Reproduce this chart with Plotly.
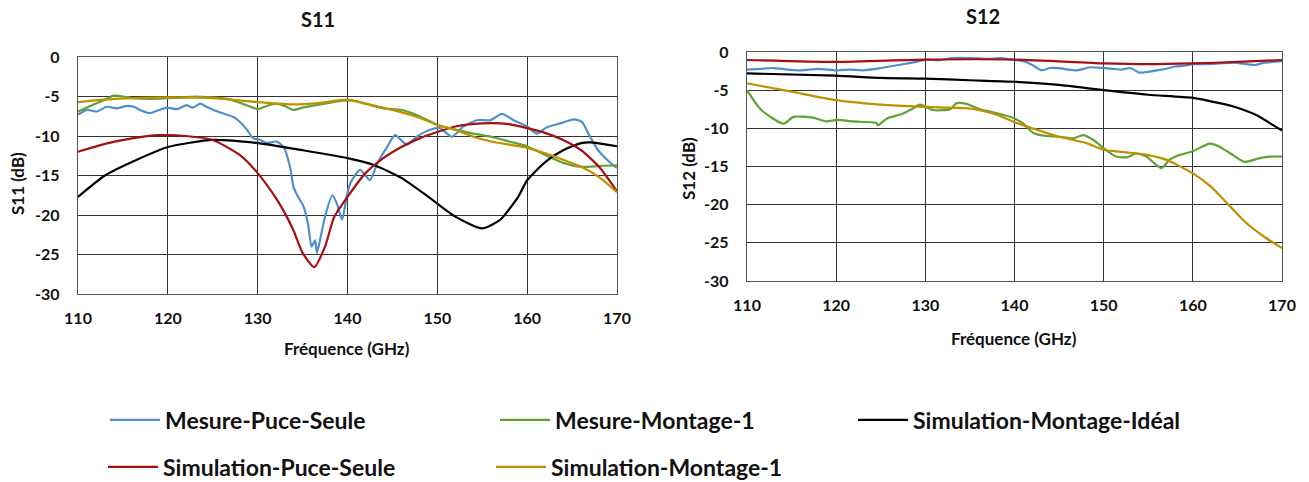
import plotly.graph_objects as go

# ---- S11 (left) ----
s11_mes_puce_f = [110.0, 111.0, 112.1, 113.2, 114.3, 115.4, 116.2, 116.9, 118.0, 118.8, 119.9, 121.0, 122.1, 122.8,
                  123.6, 124.3, 125.1, 126.6, 127.3, 128.0, 128.8, 129.5, 130.3, 131.0, 132.1, 132.9, 133.6, 134.0,
                  134.5, 135.1, 135.6, 136.0, 136.4, 136.6, 137.1, 137.5, 138.3, 138.8, 139.4, 139.9, 140.3, 141.4,
                  142.5, 143.3, 144.4, 145.3, 146.6, 147.7, 149.2, 150.3, 151.6, 152.9, 154.4, 155.9, 157.2, 158.5,
                  160.0, 161.1, 162.2, 163.7, 165.2, 166.1, 167.0, 167.9, 168.9, 169.8, 170.0]
s11_mes_puce = [-7.3, -6.7, -6.9, -6.3, -6.5, -6.2, -6.3, -6.7, -7.1, -6.8, -6.4, -6.6, -6.1, -6.4,
                -5.9, -6.3, -6.7, -7.3, -7.6, -8.2, -9.2, -10.3, -10.5, -10.9, -10.7, -11.4, -13.9, -16.5,
                -17.7, -18.9, -21.1, -24.0, -23.2, -24.8, -22.3, -20.2, -17.5, -18.5, -20.6, -17.7, -16.0, -14.3,
                -15.6, -13.5, -11.4, -9.9, -11.1, -10.1, -9.2, -9.0, -10.1, -8.8, -8.0, -8.0, -7.2, -8.0,
                -8.8, -9.7, -8.9, -8.4, -7.9, -8.2, -10.1, -11.8, -13.0, -13.9, -14.0]

s11_mes_mont_f = [110, 111, 112, 113, 114, 115, 116, 118, 120, 122, 123, 125, 126, 127, 128, 129, 130, 131, 132, 133,
                  134, 135, 136, 137, 138, 139, 140, 141, 142, 144, 146, 148, 150, 152, 154, 156, 158, 160, 162, 164,
                  166, 168, 170]
s11_mes_mont = [-6.9, -6.4, -5.9, -5.4, -4.9, -5.0, -5.2, -5.3, -5.2, -5.1, -5.0, -5.1, -5.2, -5.4, -5.8, -6.2, -6.6,
                -6.2, -5.9, -6.2, -6.7, -6.4, -6.2, -6.0, -5.8, -5.6, -5.5, -5.6, -5.9, -6.5, -6.7, -7.5, -8.6, -9.2,
                -9.7, -10.1, -10.7, -11.3, -12.4, -13.4, -13.9, -13.8, -13.7]

s11_sim_ideal_f = [110, 113, 116, 120, 125, 130, 135, 140, 143, 146, 149, 152, 155, 157, 159, 160, 162, 164, 166, 167, 170]
s11_sim_ideal = [-17.7, -15.0, -13.3, -11.4, -10.5, -10.9, -11.8, -12.8, -13.7, -15.3, -17.7, -20.2, -21.7, -20.6,
                 -17.7, -15.6, -13.3, -11.8, -10.9, -10.8, -11.3]

s11_sim_puce_f = [110, 113, 116, 119, 122, 125, 128, 130, 132, 133, 134, 135, 136.3, 137.5, 138.5, 140, 142, 144, 146,
                  148, 150, 152, 155, 158, 160, 162, 164, 166, 168, 170]
s11_sim_puce = [-12.0, -11.0, -10.3, -9.9, -10.0, -10.5, -12.4, -14.7, -17.8, -19.7, -22.0, -24.8, -26.6, -24.0, -20.3,
                -17.7, -14.7, -12.8, -11.4, -10.3, -9.5, -8.8, -8.4, -8.5, -9.0, -9.6, -10.5, -11.8, -13.9, -17.0]

s11_sim_mont_f = [110, 113, 116, 120, 125, 130, 134, 137, 140, 142, 145, 148, 150, 152, 154, 156, 158, 160, 162, 164,
                  166, 168, 170]
s11_sim_mont = [-5.7, -5.4, -5.2, -5.1, -5.2, -5.7, -6.0, -5.8, -5.4, -5.9, -6.7, -7.7, -8.6, -9.2, -10.1, -10.7,
                -11.1, -11.5, -12.2, -13.0, -13.9, -15.2, -17.1]

# ---- S12 (right) ----
s12_mes_puce_f = [110, 111.5, 113, 114.5, 116, 118, 120, 121.5, 123, 125, 127, 129, 130, 131.5, 133, 135, 137, 138.5,
                  140, 141, 142, 143, 144, 145, 146, 147, 148.5, 150, 151, 152, 153, 154, 155, 156, 157, 158, 159,
                  160, 161.5, 163, 164.5, 166, 167, 168, 169, 170]
s12_mes_puce = [-2.3, -2.2, -2.1, -2.3, -2.4, -2.2, -2.4, -2.3, -2.4, -2.1, -1.7, -1.3, -1.0, -1.1, -0.8, -0.8, -0.9,
                -0.8, -1.05, -1.2, -1.7, -2.4, -2.1, -2.1, -2.3, -2.4, -2.0, -2.1, -2.2, -2.3, -2.1, -2.7, -2.6,
                -2.4, -2.2, -1.9, -1.8, -1.6, -1.6, -1.5, -1.4, -1.6, -1.7, -1.4, -1.3, -1.2]

s12_mes_mont_f = [110.0, 111.6, 114.1, 115.2, 117.4, 118.9, 120.1, 121.9, 124.5, 124.7, 125.7, 127.2, 128.6, 129.4,
                  130.9, 132.8, 133.5, 134.6, 136.1, 137.6, 139.8, 140.9, 142.1, 143.6, 145.1, 146.6, 147.7, 148.8,
                  150.0, 151.4, 152.6, 153.7, 154.8, 155.5, 156.5, 157.4, 158.5, 160.0, 161.9, 163.0, 164.5, 165.8,
                  167.5, 168.6, 170.0]
s12_mes_mont = [-5.0, -7.6, -9.4, -8.5, -8.6, -9.1, -8.9, -9.1, -9.3, -9.6, -8.7, -8.2, -7.4, -6.9,
                -7.6, -7.5, -6.7, -6.8, -7.5, -7.9, -8.6, -9.3, -10.6, -11.0, -11.1, -11.3, -10.9, -11.5,
                -12.6, -13.7, -13.8, -13.3, -13.7, -14.4, -15.2, -14.1, -13.5, -13.0, -12.0, -12.4, -13.5, -14.4,
                -13.9, -13.7, -13.7]

s12_sim_ideal_f = [110, 120, 125, 130, 135, 140, 145, 150, 155, 160, 163, 165, 167, 170]
s12_sim_ideal = [-2.8, -3.1, -3.4, -3.5, -3.7, -3.9, -4.3, -5.0, -5.6, -6.0, -6.7, -7.3, -8.2, -10.3]

s12_sim_puce_f = [110, 120, 130, 140, 150, 155, 160, 165, 170]
s12_sim_puce = [-1.05, -1.3, -1.0, -1.0, -1.5, -1.6, -1.5, -1.3, -1.05]

s12_sim_mont_f = [110, 115, 120, 125, 130, 135, 138, 140, 142, 145, 148, 150, 153, 155, 157, 160, 162, 164, 166, 168, 170]
s12_sim_mont = [-4.1, -5.2, -6.3, -6.9, -7.2, -7.4, -8.2, -9.2, -10.0, -11.1, -11.9, -12.8, -13.2, -13.5, -14.1,
                -15.9, -17.6, -20.0, -22.4, -24.2, -25.7]

names = ["Mesure-Puce-Seule", "Mesure-Montage-1", "Simulation-Montage-Idéal",
         "Simulation-Puce-Seule", "Simulation-Montage-1"]
colors = ["#4F8FCC", "#5FA336", "#000000", "#A50F0F", "#C09000"]

x_ticks = [110, 120, 130, 140, 150, 160, 170]
y_ticks = [0, -5, -10, -15, -20, -25, -30]
y_ticklabels = ["0", "-5", "-10", "-15", "-20", "-25", "-30"]

left = [(s11_mes_puce_f, s11_mes_puce), (s11_mes_mont_f, s11_mes_mont), (s11_sim_ideal_f, s11_sim_ideal),
        (s11_sim_puce_f, s11_sim_puce), (s11_sim_mont_f, s11_sim_mont)]
right = [(s12_mes_puce_f, s12_mes_puce), (s12_mes_mont_f, s12_mes_mont), (s12_sim_ideal_f, s12_sim_ideal),
         (s12_sim_puce_f, s12_sim_puce), (s12_sim_mont_f, s12_sim_mont)]

W, H = 1309, 482
FONT = "Lato"

fig = go.Figure()
legend_ids = ["legend", "legend2", "legend3", "legend4", "legend5"]
for i, (f, v) in enumerate(left):
    fig.add_trace(go.Scatter(x=f, y=v, mode="lines", name=names[i],
                             line=dict(color=colors[i], width=2.2, shape="spline", smoothing=0.6),
                             xaxis="x", yaxis="y", legend=legend_ids[i]))
for i, (f, v) in enumerate(right):
    fig.add_trace(go.Scatter(x=f, y=v, mode="lines", name=names[i],
                             line=dict(color=colors[i], width=2.2, shape="spline", smoothing=0.6),
                             xaxis="x2", yaxis="y2", showlegend=False))

axis_common = dict(range=[110, 170], tickvals=x_ticks, showgrid=True, gridcolor="#333333", gridwidth=1.3,
                   showline=True, linecolor="#555555", linewidth=1.3, mirror=True, zeroline=False,
                   tickfont=dict(family=FONT, size=16, color="#111111", weight="bold"), ticks="", ticklabelstandoff=10)
yaxis_common = dict(range=[-30, 0], tickvals=y_ticks, ticktext=y_ticklabels, showgrid=True, gridcolor="#333333",
                    gridwidth=1.3, showline=True, linecolor="#555555", linewidth=1.3, mirror=True, zeroline=False,
                    tickfont=dict(family=FONT, size=16, color="#111111", weight="bold"), ticks="", ticklabelstandoff=14)

# legend positions (pixels of each legend box, left / vertical centre)
leg_pos = [(105, 420), (495, 420), (853, 420), (103, 467), (491, 467)]
legends = {}
for lid, (px, py) in zip(legend_ids, leg_pos):
    legends[lid] = dict(x=px / W, y=1 - py / H, xanchor="left", yanchor="middle", orientation="h",
                        bgcolor="rgba(0,0,0,0)", itemwidth=50,
                        font=dict(family=FONT, size=23, color="#111111", weight="bold"))


def label(text, px, py, size, angle=0):
    return dict(text="<b>%s</b>" % text, x=px / W, y=1 - py / H, xref="paper", yref="paper", showarrow=False,
                xanchor="center", yanchor="middle", textangle=angle,
                font=dict(family=FONT, size=size, color="#111111"))


fig.update_layout(
    width=W, height=H, margin=dict(l=0, r=0, t=0, b=0, autoexpand=False),
    paper_bgcolor="white", plot_bgcolor="white", showlegend=True,
    xaxis=dict(domain=[78 / W, 617 / W], anchor="y", **axis_common),
    yaxis=dict(domain=[1 - 294 / H, 1 - 57 / H], anchor="x", **yaxis_common),
    xaxis2=dict(domain=[747 / W, 1282 / W], anchor="y2", **axis_common),
    yaxis2=dict(domain=[1 - 281 / H, 1 - 52 / H], anchor="x2", **yaxis_common),
    **legends,
    annotations=[
        label("S11", 318, 19, 20),
        label("S12", 983, 16, 20),
        label("Fréquence (GHz)", 347, 348, 17),
        label("Fréquence (GHz)", 1014, 338, 17),
        label("S11 (dB)", 17, 184, 17, -90),
        label("S12 (dB)", 688, 169, 17, -90),
    ],
)

fig.write_html("out.html", config={"displayModeBar": False},
               post_script="document.body.style.margin='0';")
